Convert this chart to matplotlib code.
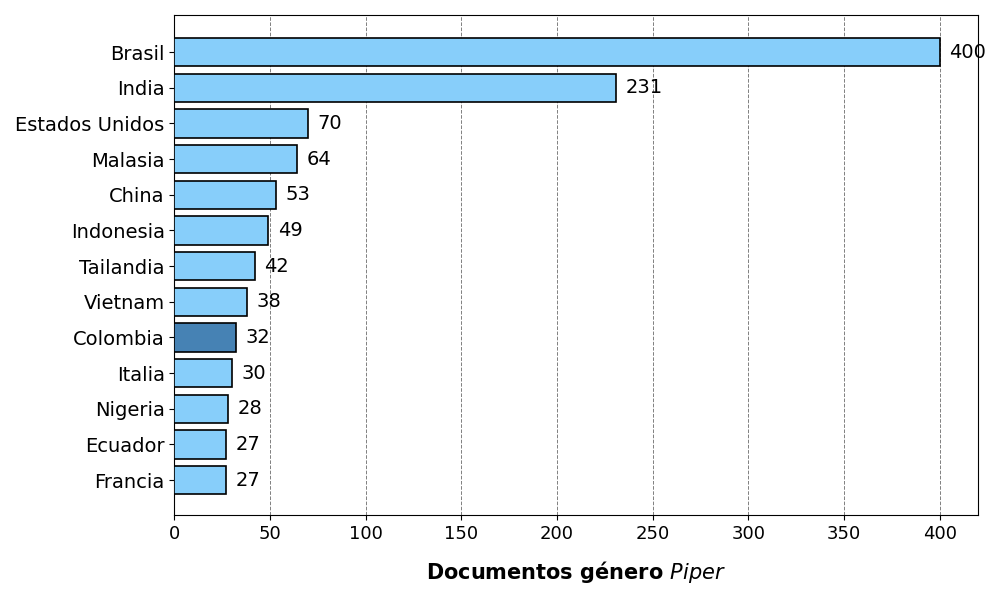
import matplotlib.pyplot as plt

countries = ["Brasil", "India", "Estados Unidos", "Malasia", "China", "Indonesia",
             "Tailandia", "Vietnam", "Colombia", "Italia", "Nigeria", "Ecuador", "Francia"]
documents = [400, 231, 70, 64, 53, 49, 42, 38, 32, 30, 28, 27, 27]
highlight = "Colombia"

plt.rcParams["mathtext.fontset"] = "dejavusans"

fig = plt.figure(figsize=(10.02, 6.01), dpi=100)
ax = fig.add_axes([0.174, 0.143, 0.802, 0.832])

colors = ["#4682B4" if c == highlight else "#87CEFA" for c in countries]
y = list(range(len(countries)))
ax.barh(y, documents, height=0.8, color=colors, edgecolor="black", linewidth=1.2, zorder=3)

for yi, v in zip(y, documents):
    ax.text(v + 5, yi, str(v), va="center", ha="left", fontsize=14)

ax.set_yticks(y)
ax.set_yticklabels(countries, fontsize=14)
ax.set_ylim(12.98, -1.04)
ax.set_xlim(0, 420)
ax.tick_params(axis="x", labelsize=13)
ax.grid(axis="x", linestyle="--", color="gray", linewidth=0.7, zorder=0)

ax.set_xlabel(r"Documentos género $\it{Piper}$", fontsize=15, fontweight="bold", labelpad=12)

fig.savefig("out.png", dpi=100)
